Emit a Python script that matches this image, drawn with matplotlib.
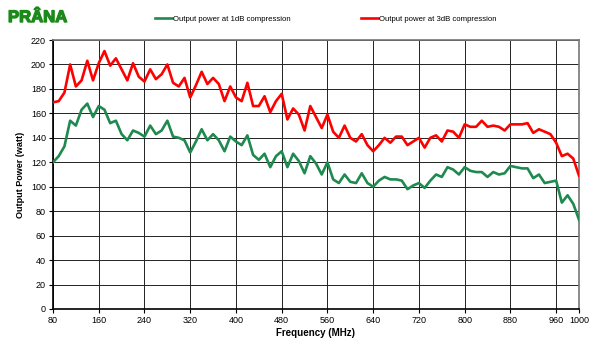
import numpy as np
import matplotlib
matplotlib.use("Agg")
import matplotlib.pyplot as plt
import matplotlib.patheffects as pe

plt.rcParams['font.family'] = ['Liberation Sans', 'DejaVu Sans']

# frequency grid (MHz), one reading every 10 MHz
freq = np.arange(80, 1001, 10)

# output power at 1dB compression (W)
p1db = [120, 125, 133, 154, 150, 163, 168, 157, 166, 163, 152, 154, 143, 138, 146, 144, 141,
        150, 143, 146, 154, 141, 140, 138, 128, 137, 147, 138, 143, 138, 129, 141, 137,
        134, 142, 126, 122, 127, 116, 125, 129, 116, 127, 121, 111, 125, 119, 110,
        120, 106, 103, 110, 104, 103, 111, 103, 100, 105, 108, 106, 106, 105, 98, 101,
        103, 99, 105, 110, 108, 116, 114, 110, 116, 113, 112, 112, 108, 112, 110, 111,
        117, 116, 115, 115, 107, 110, 103, 104, 105, 87, 93, 86, 73]

# output power at 3dB compression (W)
p3db = [169, 170, 177, 200, 182, 187, 203, 187, 201, 211, 199, 205, 196, 187, 201, 190, 186,
        196, 188, 192, 200, 185, 182, 189, 173, 183, 194, 184, 189, 184, 170, 182, 173,
        170, 185, 166, 166, 174, 161, 170, 176, 155, 164, 159, 146, 166, 157, 148,
        159, 145, 140, 150, 140, 137, 143, 134, 129, 134, 140, 136, 141, 141, 134, 137,
        140, 132, 140, 142, 137, 146, 145, 140, 151, 149, 149, 154, 149, 150, 149, 146,
        151, 151, 151, 152, 144, 147, 145, 143, 136, 125, 127, 123, 109]

xticks = [80, 160, 240, 320, 400, 480, 560, 640, 720, 800, 880, 960, 1000]
yticks = list(range(0, 221, 20))

green = '#1E8A4F'
red = '#FF0000'

fig = plt.figure(figsize=(6, 3.45), dpi=100)
ax = fig.add_axes([53/600, 1 - 309/345, 526/600, 269/345])

ax.plot(freq, p1db, color=green, lw=1.9, label='Output power at 1dB compression', zorder=3)
ax.plot(freq, p3db, color=red, lw=1.9, label='Output power at 3dB compression', zorder=3)

ax.set_xlim(80, 1000)
ax.set_ylim(0, 220)
ax.set_xticks(xticks)
ax.set_yticks(yticks)
ax.tick_params(labelsize=6.5, length=3, width=0.8, pad=2, color='black')
ax.grid(True, color='#222222', lw=0.7, zorder=1)

for s in ['left', 'bottom']:
    ax.spines[s].set_color('black')
    ax.spines[s].set_linewidth(1.2)
for s in ['top', 'right']:
    ax.spines[s].set_color('#777777')
    ax.spines[s].set_linewidth(1.2)

ax.set_xlabel('Frequency (MHz)', fontsize=7, fontweight='bold', labelpad=2)
ax.set_ylabel('Output Power (watt)', fontsize=6.5, fontweight='bold', labelpad=4)

fig.legend(loc='upper center', bbox_to_anchor=(0.543, 0.975), ncol=2, frameon=False,
           fontsize=5.6, handlelength=2.2, handletextpad=0.15, columnspacing=9.0)

fig.text(8/600, 1 - 22/345, 'PRÂNA', fontsize=12, fontweight='heavy', color='#1B8A1B',
         ha='left', va='baseline',
         path_effects=[pe.withStroke(linewidth=1.0, foreground='#1B8A1B')])

fig.savefig('out.png', dpi=100, facecolor='white')
